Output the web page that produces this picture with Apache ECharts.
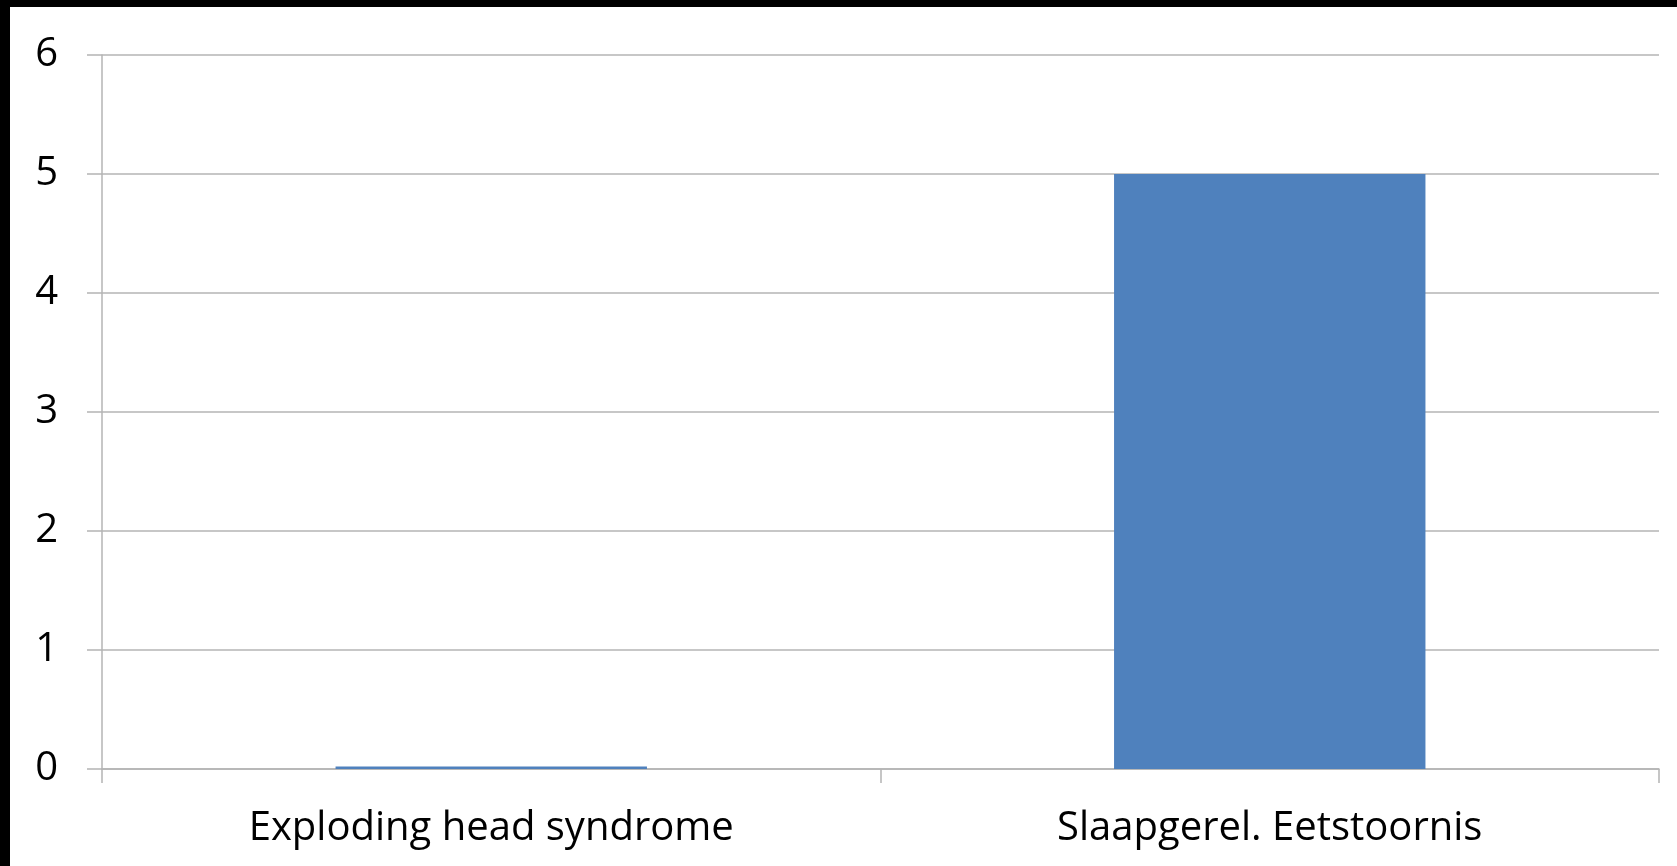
<!DOCTYPE html>
<html>
<head>
<meta charset="utf-8">
<script src="https://cdn.jsdelivr.net/npm/echarts@6/dist/echarts.min.js"></script>
<style>
  html, body { margin: 0; padding: 0; background: #ffffff; }
  #chart { position: absolute; left: 0; top: 0; width: 1677px; height: 866px; }
  .edge { position: absolute; background: #000000; }
</style>
</head>
<body>
<div id="chart"></div>
<div class="edge" style="left:0;top:0;width:1677px;height:7px;"></div>
<div class="edge" style="left:0;top:0;width:10px;height:866px;"></div>
<script>
// Categories and counts per sleep disorder
const categories = ['Exploding head syndrome', 'Slaapgerel. Eetstoornis'];
const counts = [0.02, 5];
const yTicks = [0, 1, 2, 3, 4, 5, 6];

const gridColor = '#b4b4b4';
const fontFamily = '"Open Sans", "Noto Sans", sans-serif';

const chart = echarts.init(document.getElementById('chart'), null, { renderer: 'canvas' });
chart.setOption({
  animation: false,
  backgroundColor: 'transparent',
  grid: { left: 102, right: 18, top: 55, bottom: 97, containLabel: false },
  xAxis: {
    type: 'category',
    data: categories,
    axisLine: { show: true, lineStyle: { color: gridColor, width: 1.5 } },
    axisTick: { show: true, length: 14, lineStyle: { color: gridColor, width: 1.5 } },
    axisLabel: { color: '#000000', fontSize: 40, fontFamily: fontFamily, margin: 40 }
  },
  yAxis: {
    type: 'value',
    min: yTicks[0],
    max: yTicks[yTicks.length - 1],
    interval: 1,
    axisLine: { show: true, lineStyle: { color: gridColor, width: 1.5 } },
    axisTick: { show: true, length: 15, lineStyle: { color: gridColor, width: 1.5 } },
    axisLabel: { color: '#000000', fontSize: 40, fontFamily: fontFamily, margin: 44 },
    splitLine: { show: true, lineStyle: { color: gridColor, width: 1.5 } }
  },
  series: [{
    type: 'bar',
    data: counts,
    barWidth: '40%',
    itemStyle: { color: '#4f81bd' }
  }]
});
</script>
</body>
</html>
